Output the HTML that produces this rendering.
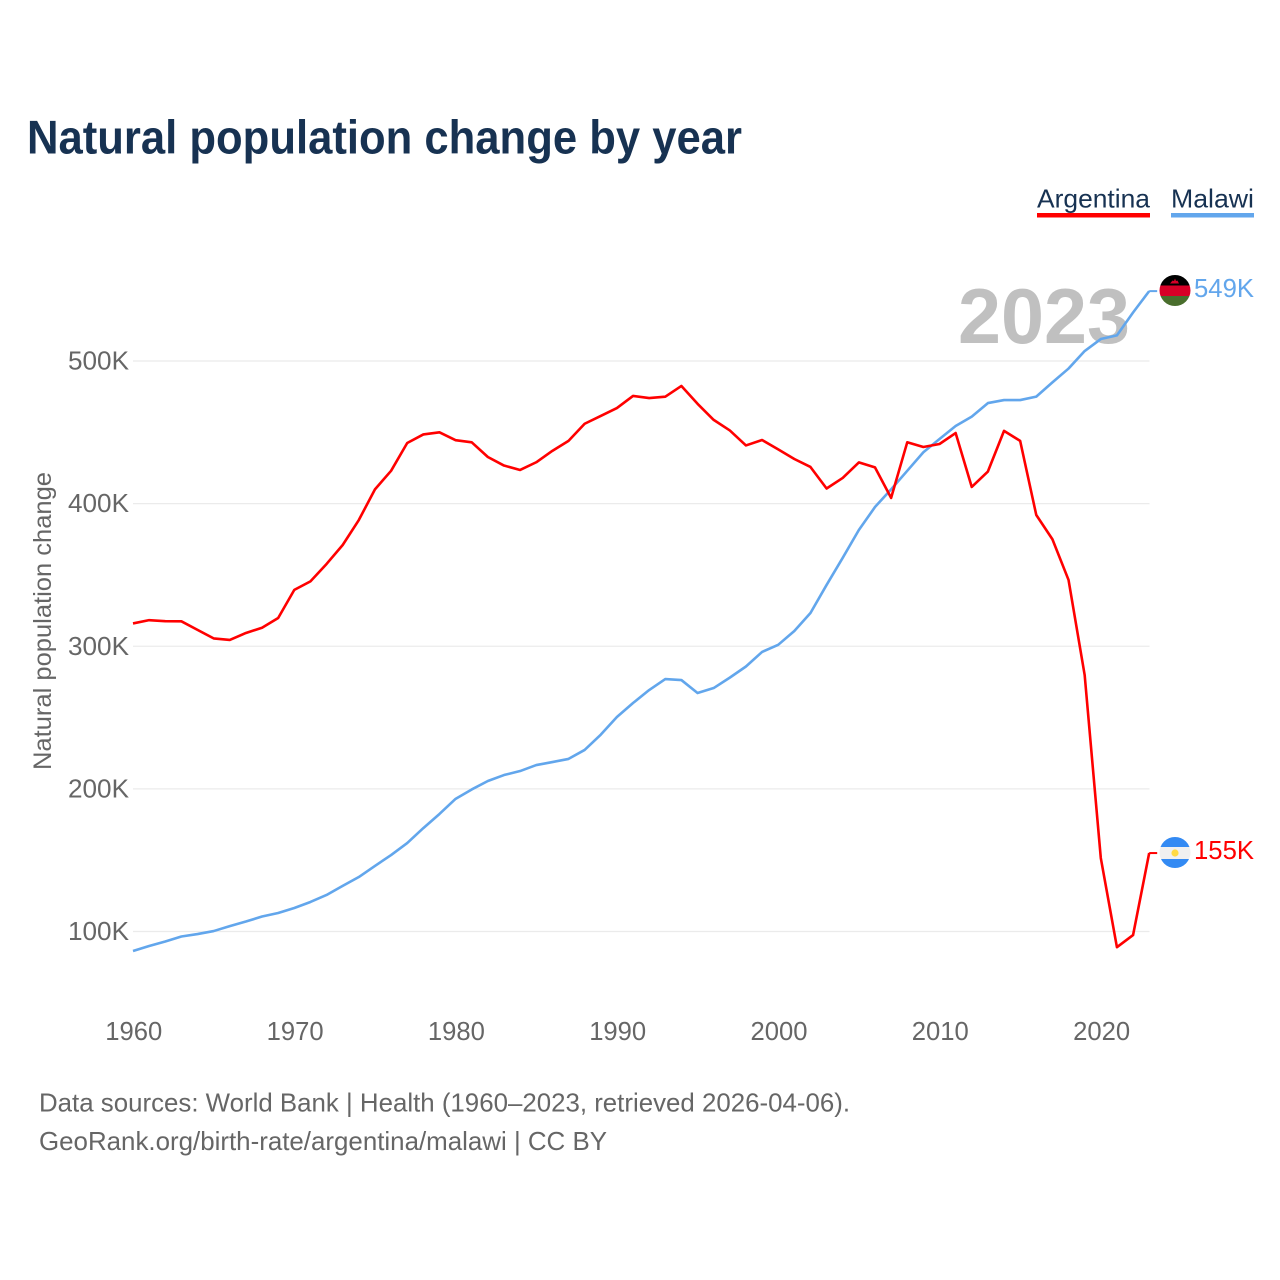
<!DOCTYPE html>
<html lang="en">
<head>
<meta charset="utf-8">
<title>Natural population change by year</title>
<style>
html,body{margin:0;padding:0;background:#fff;}
svg{display:block;font-family:"Liberation Sans",sans-serif;}
</style>
</head>
<body>
<svg id="chart" xmlns="http://www.w3.org/2000/svg" width="1280" height="1280" viewBox="0 0 1280 1280">
  <rect x="0" y="0" width="1280" height="1280" fill="#ffffff"/>
  <text x="27" y="153.5" font-size="47" font-weight="700" fill="#173252" textLength="715" lengthAdjust="spacingAndGlyphs">Natural population change by year</text>

  <g>
    <text x="1037" y="207.5" font-size="26" fill="#173252" textLength="113" lengthAdjust="spacingAndGlyphs">Argentina</text>
    <rect x="1037" y="213" width="113" height="4.5" fill="#ff0000"/>
  </g>
  <g>
    <text x="1171" y="207.5" font-size="26" fill="#173252" textLength="83" lengthAdjust="spacingAndGlyphs">Malawi</text>
    <rect x="1171" y="213" width="83" height="4.5" fill="#62a6ec"/>
  </g>

  <g id="grid"></g>
  <text x="958" y="343" font-size="78" font-weight="700" fill="#c0c0c0" textLength="172" lengthAdjust="spacingAndGlyphs">2023</text>
  <g id="y-axis"></g>
  <g id="x-axis"></g>
  <text transform="translate(51 621) rotate(-90)" text-anchor="middle" font-size="25" fill="#666666" textLength="298" lengthAdjust="spacingAndGlyphs">Natural population change</text>
  <g id="series"></g>
  <g id="ends"></g>

  <text x="39" y="1111.5" font-size="26" fill="#666666" textLength="811" lengthAdjust="spacingAndGlyphs">Data sources: World Bank | Health (1960–2023, retrieved 2026-04-06).</text>
  <text x="39" y="1150" font-size="26" fill="#666666" textLength="568" lengthAdjust="spacingAndGlyphs">GeoRank.org/birth-rate/argentina/malawi | CC BY</text>

  <defs>
    <clipPath id="flag-clip-malawi"><circle cx="1175" cy="290.5" r="15.5"/></clipPath>
    <clipPath id="flag-clip-argentina"><circle cx="1175" cy="852.5" r="15.5"/></clipPath>
  </defs>
</svg>
<script>
var startYear = 1960;
var argentinaValues = [316,318.3,317.6,317.5,311.5,305.5,304.4,309.3,313,319.8,339.5,345.5,357.7,371,388.5,410,423,442.5,448.5,450,444.5,443,432.7,426.7,423.6,429,437,444,456,461.5,467,475.5,474,475,482.5,470,458.7,451.3,440.8,444.6,438,431.3,425.7,410.6,418,428.9,425.4,404,443,439.7,441.8,449.5,411.7,422.5,451,444,392,375,346.5,279.8,151.5,89,97.5,155];
var malawiValues = [86.3,89.8,93,96.5,98.2,100.3,103.8,107,110.5,113,116.5,120.7,125.6,132,138.2,146,153.6,162,172.5,182.4,193,199.6,205.5,209.7,212.5,216.7,218.8,221,227.3,238,250.4,260.2,269.3,277,276.3,267.2,270.7,278,285.8,296,301,310.7,323.3,343,362,381.5,397.6,410,423,436,445.3,454.4,461,470.5,472.6,472.6,475,485,494.7,507,515.4,518,534,549];
var yTickValues = [100,200,300,400,500];
var xTickYears = [1960,1970,1980,1990,2000,2010,2020];

var NS = 'http://www.w3.org/2000/svg';
function x(year){ return 133 + (year - 1960) * 16.13; }
function y(v){ return 931.5 - (v - 100) * 1.42625; }
function make(tag, attrs, parent){
  var el = document.createElementNS(NS, tag);
  for (var k in attrs) el.setAttribute(k, attrs[k]);
  parent.appendChild(el);
  return el;
}
var grid = document.getElementById('grid');
var yAxis = document.getElementById('y-axis');
var xAxis = document.getElementById('x-axis');
var seriesG = document.getElementById('series');
var ends = document.getElementById('ends');

yTickValues.forEach(function(v){
  var line = make('line', {x1:133, x2:1149.5, y1:y(v), y2:y(v), stroke:'#ebebeb', 'stroke-width':1.2}, grid);
  
  
  var t = make('text', {x:129, y:y(v)+8.5, 'text-anchor':'end', 'font-size':26, fill:'#666666', textLength:61, lengthAdjust:'spacingAndGlyphs'}, yAxis);
  
  
  t.textContent = v + 'K';
});
xTickYears.forEach(function(year){
  var t = make('text', {x:x(year)+0.8, y:1040, 'text-anchor':'middle', 'font-size':26, fill:'#666666', textLength:57, lengthAdjust:'spacingAndGlyphs'}, xAxis);
  
  
  t.textContent = String(year);
});
function points(vals){
  return vals.map(function(v, i){ return x(startYear + i).toFixed(2) + ',' + y(v).toFixed(2); }).join(' ');
}
var lineMalawi = make('polyline', {points:points(malawiValues), fill:'none', stroke:'#62a6ec', 'stroke-width':2.6, 'stroke-linejoin':'round'}, seriesG);


var lineArgentina = make('polyline', {points:points(argentinaValues), fill:'none', stroke:'#ff0000', 'stroke-width':2.6, 'stroke-linejoin':'round'}, seriesG);



function endLabel(vals, color, country){
  var last = vals[vals.length - 1];
  var lx = x(startYear + vals.length - 1);
  var ly = y(last);
  var c = make('line', {x1:lx, x2:lx+8, y1:ly, y2:ly, stroke:color, 'stroke-width':2}, ends);
  
  
  var t = make('text', {x:1254, y:ly+6, 'text-anchor':'end', 'font-size':26, fill:color, textLength:60, lengthAdjust:'spacingAndGlyphs'}, ends);
  
  
  t.textContent = Math.round(last) + 'K';
}
endLabel(malawiValues, '#62a6ec', 'malawi');
endLabel(argentinaValues, '#ff0000', 'argentina');

var svg = document.getElementById('chart');
var fm = make('g', {'clip-path':'url(#flag-clip-malawi)'}, svg);


make('rect', {x:1159, y:275, width:32, height:10.5, fill:'#000000'}, fm);
make('rect', {x:1159, y:285.5, width:32, height:10.5, fill:'#d80027'}, fm);
make('rect', {x:1159, y:296, width:32, height:11, fill:'#496e2d'}, fm);
make('path', {d:'M1170 283.5h9l-1.5-3-1.5 0.5-1-2.5-1 2.5-1.5-0.5z', fill:'#d80027'}, fm);

var fa = make('g', {'clip-path':'url(#flag-clip-argentina)'}, svg);


make('rect', {x:1159, y:837, width:32, height:10, fill:'#338af3'}, fa);
make('rect', {x:1159, y:847, width:32, height:12, fill:'#f0f0f0'}, fa);
make('rect', {x:1159, y:859, width:32, height:10, fill:'#338af3'}, fa);
make('circle', {cx:1175, cy:853, r:3.6, fill:'#ffda44'}, fa);
</script>
</body>
</html>
